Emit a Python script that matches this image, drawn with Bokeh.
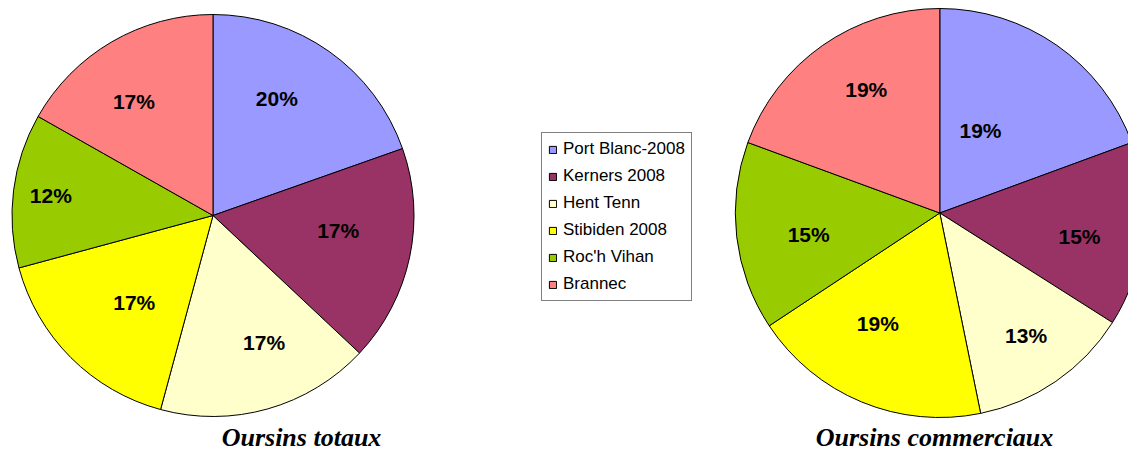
import numpy as np
from bokeh.plotting import figure
from bokeh.models import Range1d, Legend, LegendItem, ColumnDataSource
from bokeh.core.properties import value
from bokeh.embed import file_html
from bokeh.resources import INLINE

# ---- data ----
categories = ["Port Blanc-2008", "Kerners 2008", "Hent Tenn", "Stibiden 2008", "Roc'h Vihan", "Brannec"]
totaux = [19.6, 17.4, 17.2, 16.6, 12.4, 16.8]
commerciaux = [19.4, 14.6, 12.8, 18.9, 14.9, 19.4]
colors = ["#9999FF", "#993366", "#FFFFCC", "#FFFF00", "#99CC00", "#FF8080"]
titles = ["Oursins totaux", "Oursins commerciaux"]

# ---- layout / style ----
W, H = 1128, 453
left_pie = dict(cx=212.5, cy=238, r=201,
                label_r=[0.662, 0.627, 0.680, 0.582, 0.813, 0.692],
                label_da=[-6.6, -5.1, -6.1, -2.7, -0.2, -4.4])
right_pie = dict(cx=939.3, cy=240.5, r=204.5,
                 label_r=[0.449, 0.693, 0.733, 0.621, 0.650, 0.704],
                 label_da=[-8.6, 3.5, -0.6, 6.7, -2.8, 4.2])
title_x = [301, 934]


def pie_source(vals, cx, cy, r, label_r, label_da):
    v = np.array(vals, dtype=float)
    frac = v / v.sum()
    cum = np.concatenate([[0.0], np.cumsum(frac)])
    start = np.pi / 2 - cum[:-1] * 2 * np.pi
    end = np.pi / 2 - cum[1:] * 2 * np.pi
    mid = (start + end) / 2 - np.radians(label_da)
    lr = np.array(label_r) * r
    return ColumnDataSource(dict(
        x=[cx] * len(v), y=[cy] * len(v), start=start, end=end, color=colors,
        name=categories,
        lx=cx + lr * np.cos(mid), ly=cy + lr * np.sin(mid),
        label=[f"{int(round(f * 100))}%" for f in frac],
    ))


p = figure(width=W, height=H, x_range=Range1d(0, W), y_range=Range1d(0, H),
           output_backend="svg", toolbar_location=None, min_border=0,
           x_axis_location=None, y_axis_location=None)
p.grid.visible = False
p.outline_line_color = None
p.background_fill_color = "white"
p.border_fill_color = "white"

renderers = []
for vals, cfg in [(totaux, left_pie), (commerciaux, right_pie)]:
    src = pie_source(vals, cfg["cx"], cfg["cy"], cfg["r"], cfg["label_r"], cfg["label_da"])
    r = p.wedge(x="x", y="y", radius=cfg["r"], start_angle="start", end_angle="end",
                direction="clock", fill_color="color", line_color="black",
                line_width=1, source=src)
    renderers.append(r)
    p.text(x="lx", y="ly", text="label", source=src,
           text_font=value("Liberation Sans"), text_font_style="bold",
           text_font_size=value("21px"), text_align="center",
           text_baseline="middle", text_color="black")

legend = Legend(
    items=[LegendItem(label=c, renderers=[renderers[0]], index=i) for i, c in enumerate(categories)],
    location=(541, 152),
    border_line_color="black", border_line_width=1,
    background_fill_color="white", background_fill_alpha=1.0,
    label_text_font="Liberation Sans", label_text_font_size="17px",
    label_text_color="black",
    glyph_width=9, glyph_height=9, label_height=20, spacing=7,
    padding=6, margin=0, label_standoff=6,
)
p.add_layout(legend)

tsrc = ColumnDataSource(dict(x=title_x, y=[2, 2], text=titles))
p.text(x="x", y="y", text="text", source=tsrc,
       text_font=value("Liberation Serif"), text_font_style="bold italic",
       text_font_size=value("26px"), text_align="center",
       text_baseline="bottom", text_color="black")

open("out.html", "w").write(file_html(p, INLINE))
